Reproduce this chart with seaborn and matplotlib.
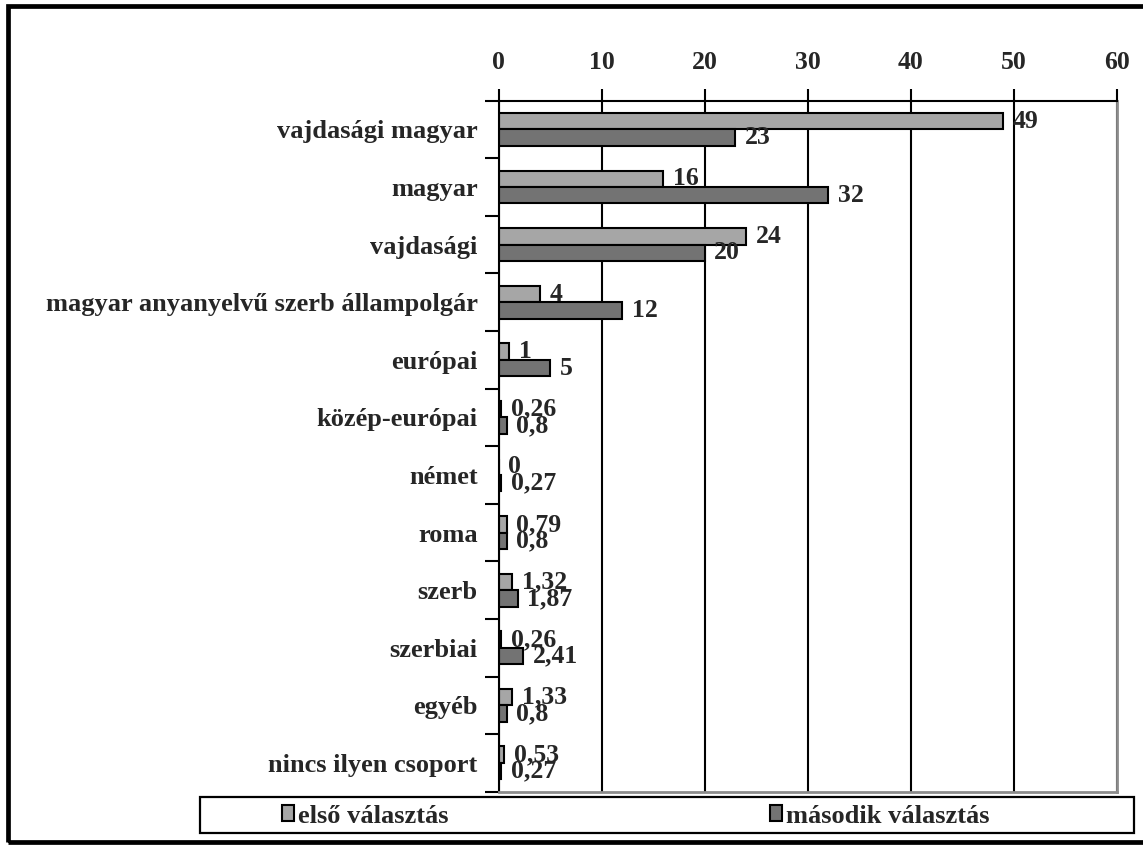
import matplotlib
matplotlib.use("Agg")
import matplotlib.pyplot as plt
import seaborn as sns
import pandas as pd
from matplotlib.patches import Rectangle
from matplotlib.ticker import FixedLocator

categories = ["vajdasági magyar", "magyar", "vajdasági",
              "magyar anyanyelvű szerb állampolgár", "európai", "közép-európai",
              "német", "roma", "szerb", "szerbiai", "egyéb", "nincs ilyen csoport"]
series_names = ["első választás", "második választás"]
first_choice = [49, 16, 24, 4, 1, 0.26, 0, 0.79, 1.32, 0.26, 1.33, 0.53]
second_choice = [23, 32, 20, 12, 5, 0.8, 0.27, 0.8, 1.87, 2.41, 0.8, 0.27]
x_ticks = [0, 10, 20, 30, 40, 50, 60]

colors = ["#A6A6A6", "#737373"]

df = pd.DataFrame({
    "kategoria": categories * 2,
    "ertek": first_choice + second_choice,
    "sorozat": [series_names[0]] * len(categories) + [series_names[1]] * len(categories),
})

sns.set_style("white")
plt.rcParams["font.family"] = ["Liberation Serif", "DejaVu Serif"]
plt.rcParams["font.weight"] = "bold"

W, H = 1143, 846
fig = plt.figure(figsize=(W / 100, H / 100), dpi=100)
ax = fig.add_axes([498.5 / W, 1 - 791.7 / H, (1116.7 - 498.5) / W, (791.7 - 100.7) / H])

sns.barplot(data=df, y="kategoria", x="ertek", hue="sorozat", order=categories,
            hue_order=series_names, palette=colors, orient="h", width=0.57,
            edgecolor="black", linewidth=1.5, saturation=1, ax=ax, legend=False,
            errorbar=None)

ax.set_xlim(0, 60)
ax.set_ylim(11.5, -0.5)
ax.set_xlabel("")
ax.set_ylabel("")

# value labels
for cont, vals in zip(ax.containers, [first_choice, second_choice]):
    labels = [f"{v:g}".replace(".", ",") for v in vals]
    ax.bar_label(cont, labels=labels, padding=7, fontsize=18.5, fontweight="bold")

# axes styling
ax.xaxis.tick_top()
ax.set_xticks(x_ticks)
ax.set_xticklabels([str(t) for t in x_ticks], fontsize=18.5, fontweight="bold")
ax.tick_params(axis="x", which="major", direction="out", length=9, width=1.5,
               pad=10, color="black", top=True, bottom=False)
ax.yaxis.set_minor_locator(FixedLocator([i - 0.5 for i in range(len(categories) + 1)]))
ax.tick_params(axis="y", which="major", length=0, pad=15, labelsize=19)
ax.tick_params(axis="y", which="minor", length=10, width=1.5, color="black", left=True)
for lab in ax.get_yticklabels():
    lab.set_fontweight("bold")

ax.grid(axis="x", color="black", linewidth=1.5)
ax.grid(axis="y", visible=False)
ax.set_axisbelow(True)
for side in ["top", "left"]:
    ax.spines[side].set_color("black")
    ax.spines[side].set_linewidth(1.5)
for side in ["right", "bottom"]:
    ax.spines[side].set_color("#8C8C8C")
    ax.spines[side].set_linewidth(2)
for s in ax.spines.values():
    s.set_visible(True)

# legend
handles = [Rectangle((0, 0), 1, 1, facecolor=c, edgecolor="black", linewidth=1.5) for c in colors]
fig.legend(handles, series_names, loc="center", bbox_to_anchor=(636 / W, 1 - 816 / H),
           ncol=2, frameon=False, prop={"family": "Liberation Serif", "weight": "bold", "size": 19},
           handlelength=0.45, handleheight=0.55, handletextpad=0.15, columnspacing=12.2)
fig.add_artist(Rectangle((200 / W, 1 - 833 / H), 934 / W, 36 / H, transform=fig.transFigure,
                         facecolor="none", edgecolor="black", linewidth=1.6))

# outer frame
fig.add_artist(Rectangle((8 / W, 1 - 842 / H), 1.2, (842 - 6) / H, transform=fig.transFigure,
                         facecolor="none", edgecolor="black", linewidth=3.4))

fig.savefig("out.png", dpi=100)
